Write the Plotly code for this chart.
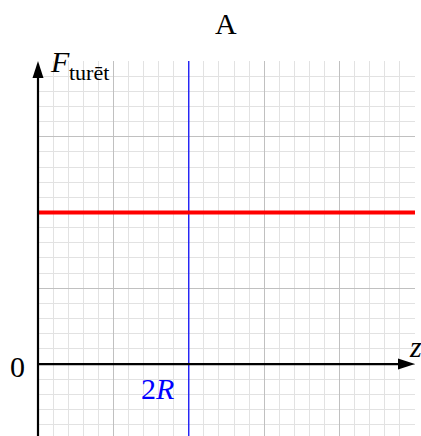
import plotly.graph_objects as go

# --- chart content -------------------------------------------------------
title_text = "A"
x_range = [0, 5]            # horizontal extent (major grid every 1)
y_range = [-0.95, 4]        # vertical extent (major grid every 1)
force_level = [2, 2]        # constant F_turēt value
force_z = [0, 5]
marker_z = [2, 2]           # position of 2R
marker_label = "2<i>R</i>"
x_axis_label = "<i>z</i>"
y_axis_label = "<i>F</i>"
y_axis_sub = "turēt"
origin_label = "0"

W, H = 421, 436
L, R, T, B = 38, 6, 61, 0
PW, PH = W - L - R, H - T - B

def px(x):
    return (x - L) / PW

def py(y):
    return (H - B - y) / PH

FONT = "Liberation Serif"
MAJOR = "#c0c0c0"
MINOR = "#e2e2e2"

fig = go.Figure()

fig.add_trace(go.Scatter(
    x=marker_z, y=y_range, mode="lines",
    line=dict(color="#0000ff", width=1.2), hoverinfo="skip", showlegend=False))
fig.add_trace(go.Scatter(
    x=force_z, y=force_level, mode="lines",
    line=dict(color="#ff0000", width=4), hoverinfo="skip", showlegend=False))

# axes drawn as black lines with filled arrowheads; the vertical axis sits on
# the left edge of the plot area, so it is placed in paper x to avoid clipping
fig.add_shape(type="line", xref="x", yref="y", x0=0, x1=x_range[1] - 0.1,
              y0=0, y1=0, line=dict(color="black", width=2.2))
fig.add_shape(type="line", xref="paper", yref="y", x0=0, x1=0,
              y0=y_range[0], y1=y_range[1] - 0.1, line=dict(color="black", width=2.2))
fig.add_shape(type="path", xref="x", yref="y", xsizemode="pixel", ysizemode="pixel",
              xanchor=x_range[1], yanchor=0,
              path="M -17 -5.5 L 0 0 L -17 5.5 Z",
              fillcolor="black", line=dict(width=0))
fig.add_shape(type="path", xref="paper", yref="y", xsizemode="pixel", ysizemode="pixel",
              xanchor=0, yanchor=y_range[1],
              path="M -5.5 -17 L 0 0 L 5.5 -17 Z",
              fillcolor="black", line=dict(width=0))

def label(text, x, y, size=30, color="black", xanchor="center"):
    fig.add_annotation(text=text, xref="paper", yref="paper", x=px(x), y=py(y),
                       xanchor=xanchor, yanchor="middle", showarrow=False,
                       font=dict(family=FONT, size=size, color=color))

label(title_text, 226, 24)
label(y_axis_label, 48, 61, xanchor="left")
label(y_axis_sub, 67, 72, size=22, xanchor="left")
label(origin_label, 17.5, 366)
label(marker_label, 157, 388, color="#0000ff")
label(x_axis_label, 415, 346)

axis_common = dict(
    showticklabels=False, ticks="", zeroline=False, showline=False,
    dtick=1, tick0=0, showgrid=True, gridcolor=MAJOR, gridwidth=1,
    minor=dict(dtick=0.2, tick0=0, showgrid=True, gridcolor=MINOR, gridwidth=1),
    fixedrange=True,
)
fig.update_xaxes(range=x_range, **axis_common)
fig.update_yaxes(range=y_range, **axis_common)

fig.update_layout(
    width=W, height=H,
    margin=dict(l=L, r=R, t=T, b=B),
    paper_bgcolor="white", plot_bgcolor="white",
    showlegend=False,
    font=dict(family=FONT),
)

fig.write_html("out.html")
